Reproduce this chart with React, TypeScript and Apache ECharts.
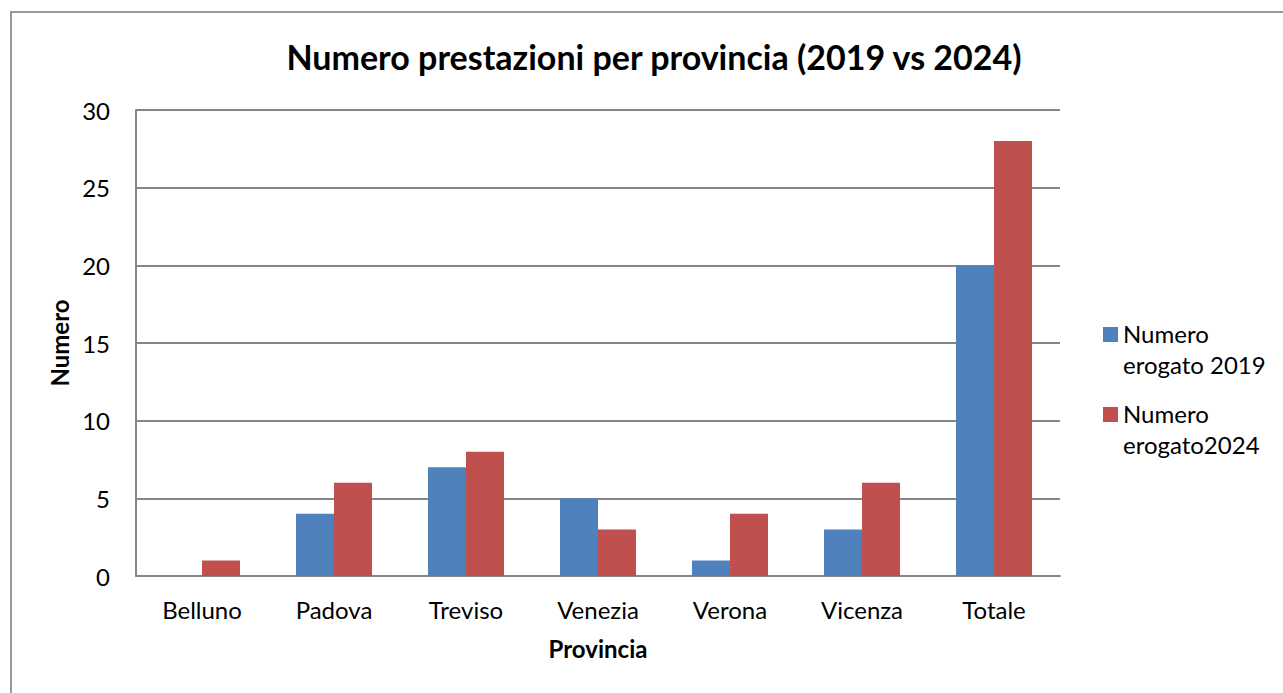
import React, { useEffect, useRef } from "react";
import * as echarts from "echarts";

const categories = ["Belluno", "Padova", "Treviso", "Venezia", "Verona", "Vicenza", "Totale"];
const values2019 = [0, 4, 7, 5, 1, 3, 20];
const values2024 = [1, 6, 8, 3, 4, 6, 28];
const seriesNames = ["Numero erogato 2019", "Numero erogato2024"];
const titleText = "Numero prestazioni per provincia (2019 vs 2024)";
const yAxisName = "Numero";
const xAxisName = "Provincia";

const FONT = "Lato, 'Noto Sans', sans-serif";
const legendIcon =
  "path://M0,0h0.01v0.01h-0.01z M0,10h15v15h-15z M0,64h0.01v0.01h-0.01z";

export default function App() {
  const ref = useRef<HTMLDivElement>(null);
  useEffect(() => {
    if (!ref.current) return;
    const chart = echarts.init(ref.current, null, { renderer: "svg" });
    chart.setOption({
      animation: false,
      backgroundColor: "#ffffff",
      textStyle: { fontFamily: FONT },
      title: {
        text: titleText,
        left: 654,
        top: 39,
        padding: 0,
        textAlign: "center",
        textStyle: { fontFamily: FONT, fontSize: 34, fontWeight: "bold", color: "#000" },
      },
      graphic: [
        {
          type: "rect",
          shape: { x: 11, y: 12, width: 1400, height: 800 },
          style: { fill: "none", stroke: "#9a9a9a", lineWidth: 2 },
          silent: true,
          z: -1,
        },
      ],
      legend: {
        orient: "vertical",
        left: 1103,
        top: 317,
        padding: 0,
        itemWidth: 15,
        itemHeight: 64,
        itemGap: 16,
        icon: legendIcon,
        itemStyle: { borderWidth: 0 },
        formatter: (name: string) => name.replace(" ", "\n"),
        textStyle: { fontFamily: FONT, fontSize: 24, lineHeight: 31, color: "#000" },
        data: seriesNames,
      },
      grid: { left: 136, right: 223, top: 110, bottom: 117, containLabel: false },
      xAxis: {
        type: "category",
        data: categories,
        name: xAxisName,
        nameLocation: "middle",
        nameGap: 60,
        nameTextStyle: { fontFamily: FONT, fontSize: 24, fontWeight: "bold", color: "#000" },
        axisLine: { lineStyle: { color: "#868686", width: 2 } },
        axisTick: { show: false },
        axisLabel: { fontFamily: FONT, fontSize: 24, color: "#000", margin: 21 },
      },
      yAxis: {
        type: "value",
        min: 0,
        max: 30,
        interval: 5,
        name: yAxisName,
        nameLocation: "middle",
        nameGap: 63,
        nameRotate: 90,
        nameTextStyle: { fontFamily: FONT, fontSize: 24, fontWeight: "bold", color: "#000" },
        axisLine: { show: true, lineStyle: { color: "#868686", width: 2 } },
        axisTick: { show: false },
        axisLabel: { fontFamily: FONT, fontSize: 24, color: "#000", margin: 26 },
        splitLine: { lineStyle: { color: "#868686", width: 2 } },
      },
      series: [
        {
          name: seriesNames[0],
          type: "bar",
          data: values2019,
          barWidth: 38,
          barGap: "0%",
          itemStyle: { color: "#4F81BD" },
        },
        {
          name: seriesNames[1],
          type: "bar",
          data: values2024,
          barWidth: 38,
          barGap: "0%",
          itemStyle: { color: "#C0504D" },
        },
      ],
    });
    return () => chart.dispose();
  }, []);
  return (
    <div
      ref={ref}
      style={{ position: "absolute", left: 0, top: 0, width: 1283, height: 693 }}
    />
  );
}
